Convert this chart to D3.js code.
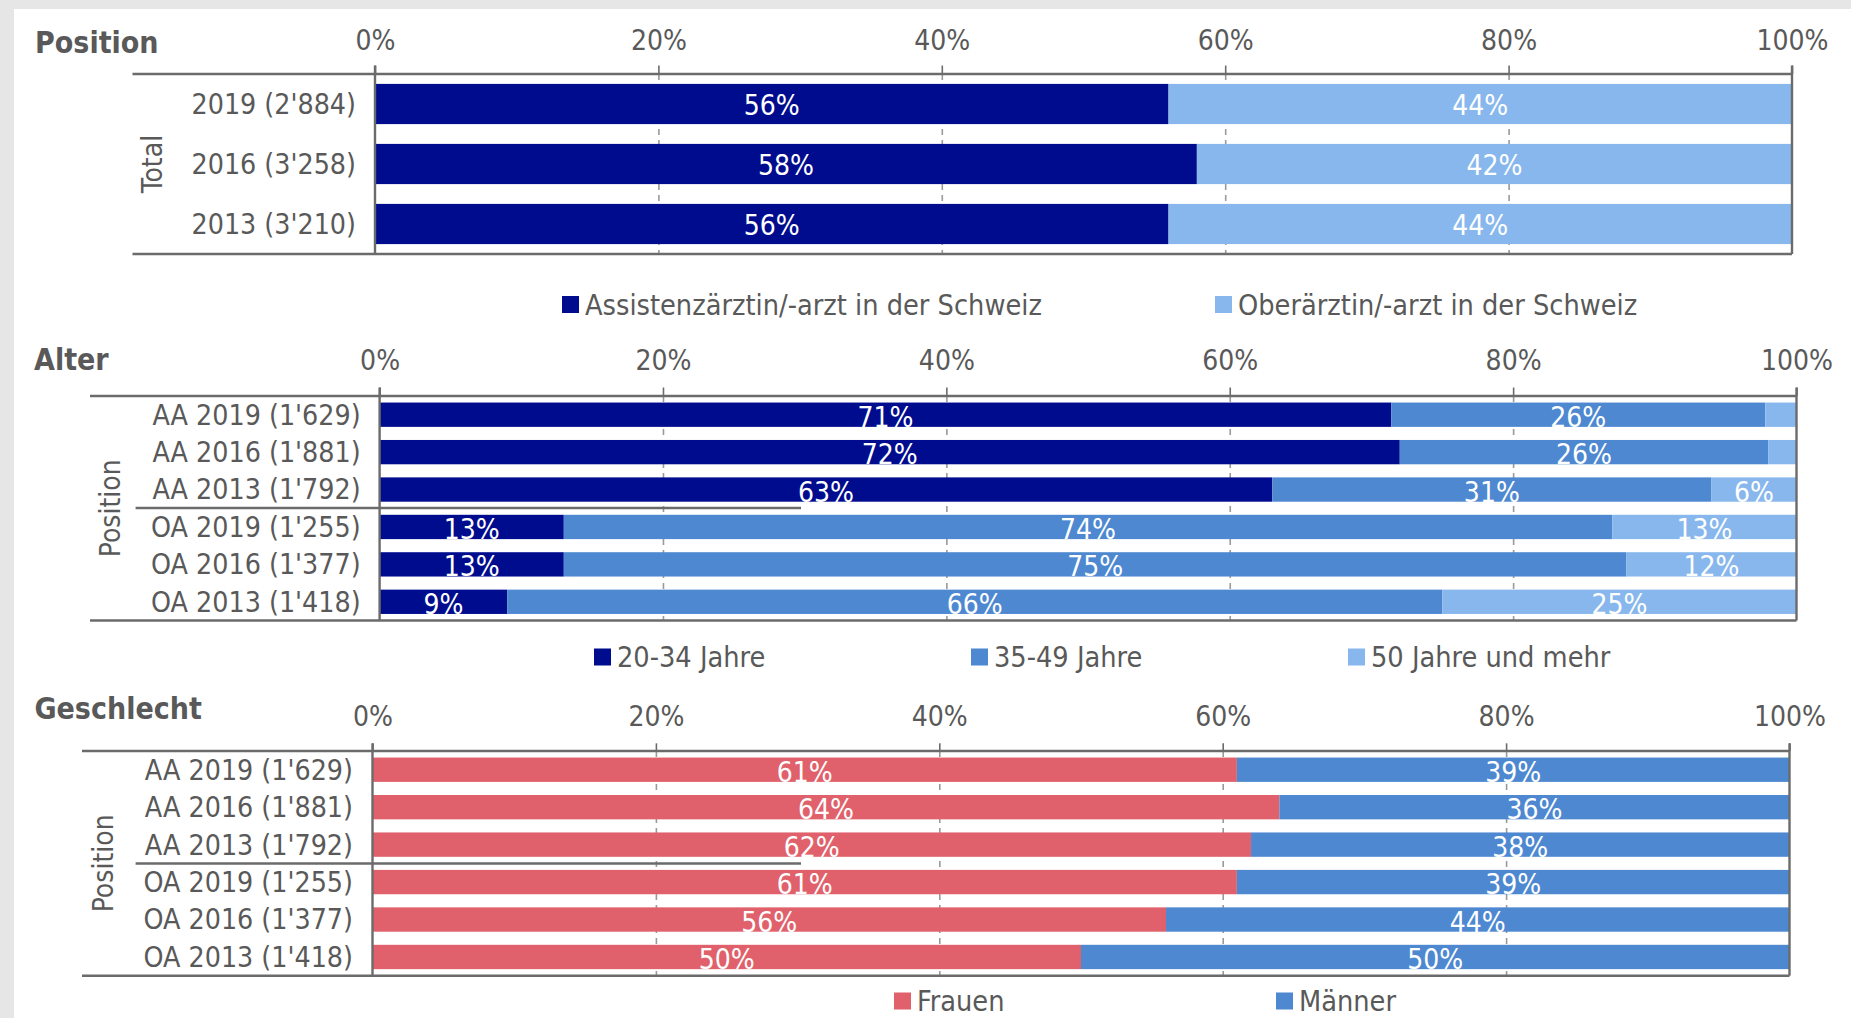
<!DOCTYPE html>
<html>
<head>
<meta charset="utf-8">
<script src="https://cdn.jsdelivr.net/npm/d3@7"></script>
<style>
  html, body { margin: 0; padding: 0; background: #e6e6e6; }
  svg { display: block; }
</style>
</head>
<body>
<svg id="chart" width="1851" height="1018"></svg>
<script>
// ---------------- DATA ----------------
const tickValues = [0, 20, 40, 60, 80, 100];

const posCategories = ["2019 (2'884)", "2016 (3'258)", "2013 (3'210)"];
const posSeries = ["Assistenzärztin/-arzt in der Schweiz", "Oberärztin/-arzt in der Schweiz"];
const posAssistenz = [56, 58, 56];
const posOber = [44, 42, 44];

const groupCategories = ["AA 2019 (1'629)", "AA 2016 (1'881)", "AA 2013 (1'792)",
                         "OA 2019 (1'255)", "OA 2016 (1'377)", "OA 2013 (1'418)"];

const alterSeries = ["20-34 Jahre", "35-49 Jahre", "50 Jahre und mehr"];
const alter2034 = [71.4, 72, 63, 13, 13, 9];
const alter3549 = [26.4, 26, 31, 74, 75, 66];
const alter50   = [2.2, 2, 6, 13, 12, 25];

const geschlechtSeries = ["Frauen", "Männer"];
const frauen  = [61, 64, 62, 61, 56, 50];
const maenner = [39, 36, 38, 39, 44, 50];

// ---------------- STYLE ----------------
const FONT = "'DejaVu Sans Condensed', 'DejaVu Sans', sans-serif";
const TXT = "#595959";
const AXIS = "#6b6b6b";
const GRID = "#9a9a9a";
const C_DARK = "#000c8e";
const C_MID = "#4d88d1";
const C_LIGHT = "#87b7ec";
const C_RED = "#e0616b";

const svg = d3.select("#chart");
// white panel
svg.append("rect").attr("x", 14).attr("y", 9).attr("width", 1851 - 14).attr("height", 1018 - 9).attr("fill", "#ffffff");

function buildRows(categories, seriesArrays) {
  return categories.map((c, i) => {
    const row = { cat: c };
    seriesArrays.forEach((arr, k) => row["s" + k] = arr[i]);
    return row;
  });
}

function drawPanel(cfg) {
  const g = svg.append("g");
  const x = d3.scaleLinear().domain([0, 100]).range([cfg.x0, cfg.x1]);
  const y = d3.scaleBand().domain(cfg.categories).range([cfg.yTop, cfg.yBot])
              .paddingInner(cfg.pad).paddingOuter(cfg.pad / 2);

  // title
  g.append("text").attr("x", cfg.titleX).attr("y", cfg.titleY)
    .attr("font-family", FONT).attr("font-weight", "bold").attr("font-size", 30)
    .attr("fill", TXT).text(cfg.title);

  // gridlines (dashed)
  g.append("g").attr("transform", `translate(0,${cfg.yTop})`)
    .call(d3.axisBottom(x).tickValues(tickValues.slice(1, -1)).tickSize(cfg.yBot - cfg.yTop).tickFormat(""))
    .call(s => s.select(".domain").remove())
    .call(s => s.selectAll("line").attr("stroke", GRID).attr("stroke-width", 1.6).attr("stroke-dasharray", "6,5"));

  // stacked bars
  const rows = buildRows(cfg.categories, cfg.values);
  const keys = cfg.values.map((_, k) => "s" + k);
  const stacked = d3.stack().keys(keys)(rows);
  const layers = g.selectAll(".layer").data(stacked).enter().append("g")
    .attr("fill", (d, i) => cfg.colors[i]);
  layers.selectAll("rect").data(d => d).enter().append("rect")
    .attr("x", d => x(d[0])).attr("width", d => x(d[1]) - x(d[0]))
    .attr("y", d => y(d.data.cat)).attr("height", y.bandwidth());
  layers.selectAll("text").data(d => d.filter(v => v[1] - v[0] >= 4)).enter().append("text")
    .attr("x", d => (x(d[0]) + x(d[1])) / 2)
    .attr("y", d => y(d.data.cat) + y.bandwidth() / 2 + cfg.labelDy)
    .attr("text-anchor", "middle").attr("dominant-baseline", "central")
    .attr("font-family", FONT).attr("font-size", 28).attr("fill", "#ffffff")
    .text(d => Math.round(d[1] - d[0]) + "%");

  // top axis with tick labels
  g.append("g").attr("transform", `translate(0,${cfg.yTop})`)
    .call(d3.axisTop(x).tickValues(tickValues).tickSize(cfg.yTop - cfg.tickTop)
      .tickPadding(cfg.tickTop - cfg.labelY).tickFormat(d => d + "%"))
    .call(s => s.select(".domain").remove())
    .call(s => s.selectAll("line").attr("stroke", AXIS).attr("stroke-width", 1.6))
    .call(s => s.selectAll("text").attr("font-family", FONT).attr("font-size", 28).attr("fill", TXT));

  // frame lines: top / bottom horizontal, left axis, right border
  const lines = [
    [cfg.lineLeft, cfg.yTop, cfg.x1, cfg.yTop],
    [cfg.lineLeft, cfg.yBot, cfg.x1, cfg.yBot],
    [cfg.x0, cfg.tickTop, cfg.x0, cfg.yBot],
    [cfg.x1, cfg.tickTop, cfg.x1, cfg.yBot]
  ];
  if (cfg.sepY) lines.push([cfg.sepLeft, cfg.sepY, cfg.sepRight, cfg.sepY]);
  g.selectAll(".frame").data(lines).enter().append("line")
    .attr("x1", d => d[0]).attr("y1", d => d[1]).attr("x2", d => d[2]).attr("y2", d => d[3])
    .attr("stroke", AXIS).attr("stroke-width", 2.4);

  // category axis
  g.append("g").attr("transform", `translate(${cfg.x0},0)`)
    .call(d3.axisLeft(y).tickSize(0).tickPadding(cfg.x0 - cfg.labelRight))
    .call(s => s.select(".domain").remove())
    .call(s => s.selectAll("text").attr("font-family", FONT).attr("font-size", 28.3).attr("fill", TXT)
      .attr("dy", "0.35em"));

  // rotated group label
  g.append("text").attr("transform", `translate(${cfg.rotX},${(cfg.yTop + cfg.yBot) / 2}) rotate(-90)`)
    .attr("text-anchor", "middle").attr("dominant-baseline", "central")
    .attr("font-family", FONT).attr("font-size", 28).attr("fill", TXT).text(cfg.rotLabel);

  // legend
  const leg = g.selectAll(".leg").data(cfg.series).enter().append("g")
    .attr("transform", (d, i) => `translate(${cfg.legendX[i]},${cfg.legendY})`);
  leg.append("rect").attr("x", 0).attr("y", -8.5).attr("width", 17).attr("height", 17)
    .attr("fill", (d, i) => cfg.colors[i]);
  leg.append("text").attr("x", 23).attr("y", 0).attr("dominant-baseline", "central")
    .attr("font-family", FONT).attr("font-size", 28.6).attr("fill", TXT).text(d => d);
}

drawPanel({
  title: "Position", titleX: 35, titleY: 53,
  categories: posCategories, values: [posAssistenz, posOber], series: posSeries,
  colors: [C_DARK, C_LIGHT],
  x0: 375, x1: 1792, yTop: 74, yBot: 254, tickTop: 65.5, labelY: 50, pad: 0.33, labelDy: 1,
  lineLeft: 132.5, labelRight: 356, rotX: 152, rotLabel: "Total",
  legendX: [562, 1215], legendY: 304.5
});

drawPanel({
  title: "Alter", titleX: 34, titleY: 369.5,
  categories: groupCategories, values: [alter2034, alter3549, alter50], series: alterSeries,
  colors: [C_DARK, C_MID, C_LIGHT],
  x0: 379.6, x1: 1796.5, yTop: 396, yBot: 620.5, tickTop: 387.5, labelY: 370, pad: 0.35, labelDy: 2.5,
  lineLeft: 90, labelRight: 360.6, rotX: 110, rotLabel: "Position",
  sepY: 508, sepLeft: 135.6, sepRight: 801,
  legendX: [594, 971, 1348], legendY: 657
});

drawPanel({
  title: "Geschlecht", titleX: 34.4, titleY: 719,
  categories: groupCategories, values: [frauen, maenner], series: geschlechtSeries,
  colors: [C_RED, C_MID],
  x0: 372.5, x1: 1789.5, yTop: 751, yBot: 975.7, tickTop: 743.3, labelY: 725.7, pad: 0.35, labelDy: 2.5,
  lineLeft: 82, labelRight: 353, rotX: 103, rotLabel: "Position",
  sepY: 863.5, sepLeft: 135.6, sepRight: 801,
  legendX: [894, 1276], legendY: 1001
});
</script>
</body>
</html>
